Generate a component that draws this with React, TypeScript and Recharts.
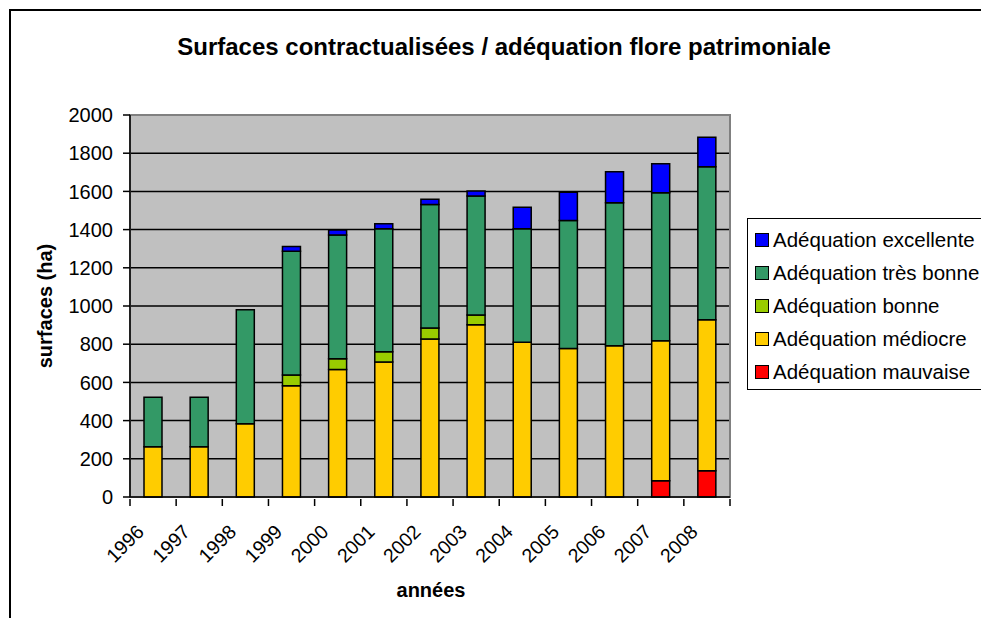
import React from "react";
import { BarChart, Bar, XAxis, YAxis, CartesianGrid, ReferenceArea } from "recharts";

const years = ["1996", "1997", "1998", "1999", "2000", "2001", "2002", "2003", "2004", "2005", "2006", "2007", "2008"];
const mauvaise = [0, 0, 0, 0, 0, 0, 0, 0, 0, 0, 0, 85, 138];
const mediocre = [263, 263, 384, 583, 667, 707, 827, 902, 810, 777, 792, 733, 790];
const bonne = [0, 0, 0, 56, 57, 54, 58, 51, 0, 0, 0, 0, 0];
const tresBonne = [259, 259, 597, 647, 648, 644, 647, 623, 595, 670, 749, 775, 801];
const excellente = [0, 0, 0, 25, 26, 26, 27, 26, 112, 148, 162, 152, 154];
const yTicks = [0, 200, 400, 600, 800, 1000, 1200, 1400, 1600, 1800, 2000];

// bottom to top of the stack
const series = [
  { key: "mauvaise", name: "Adéquation mauvaise", color: "#FF0000" },
  { key: "mediocre", name: "Adéquation médiocre", color: "#FFCC00" },
  { key: "bonne", name: "Adéquation bonne", color: "#99CC00" },
  { key: "tresBonne", name: "Adéquation très bonne", color: "#339966" },
  { key: "excellente", name: "Adéquation excellente", color: "#0000FF" },
];

const data = years.map((year, i) => ({
  year,
  mauvaise: mauvaise[i],
  mediocre: mediocre[i],
  bonne: bonne[i],
  tresBonne: tresBonne[i],
  excellente: excellente[i],
}));

const FONT = "Arial, 'Liberation Sans', sans-serif";

function YearTick(props: any) {
  const { x, y, payload, index } = props;
  const half = payload.offset ?? 23;
  const tx = x - 8;
  const ty = y + 34;
  return (
    <g>
      <line x1={x - half} y1={y} x2={x - half} y2={y + 7} stroke="#000" strokeWidth={1.5} />
      {index === years.length - 1 && (
        <line x1={x + half} y1={y} x2={x + half} y2={y + 7} stroke="#000" strokeWidth={1.5} />
      )}
      <text
        x={tx}
        y={ty}
        textAnchor="end"
        fontSize={19.5}
        fontFamily={FONT}
        fill="#000"
        transform={`rotate(-45, ${tx}, ${ty})`}
      >
        {payload.value}
      </text>
    </g>
  );
}

export default function App() {
  return (
    <div
      style={{
        position: "absolute",
        left: 0,
        top: 0,
        width: 981,
        height: 618,
        overflow: "hidden",
        background: "#fff",
        fontFamily: FONT,
      }}
    >
      <div
        style={{
          position: "absolute",
          left: 9,
          top: 9,
          width: 1100,
          height: 800,
          border: "2px solid #000",
        }}
      />
      <div
        style={{
          position: "absolute",
          left: 504,
          top: 47,
          transform: "translate(-50%, -50%)",
          whiteSpace: "nowrap",
          fontSize: 24,
          fontWeight: "bold",
        }}
      >
        Surfaces contractualisées / adéquation flore patrimoniale
      </div>
      <div
        style={{
          position: "absolute",
          left: 45,
          top: 306,
          transform: "translate(-50%, -50%) rotate(-90deg)",
          whiteSpace: "nowrap",
          fontSize: 20,
          fontWeight: "bold",
        }}
      >
        surfaces (ha)
      </div>
      <div
        style={{
          position: "absolute",
          left: 431,
          top: 590,
          transform: "translate(-50%, -50%)",
          whiteSpace: "nowrap",
          fontSize: 20,
          fontWeight: "bold",
        }}
      >
        années
      </div>

      <div style={{ position: "absolute", left: 0, top: 0 }}>
        <BarChart
          width={981}
          height={618}
          data={data}
          margin={{ top: 115, right: 251, left: 60, bottom: 21 }}
        >
          <CartesianGrid vertical={false} stroke="#000" strokeWidth={1.5} fill="#C0C0C0" fillOpacity={1} />
          <ReferenceArea y1={0} y2={2000} fill="none" stroke="#808080" strokeWidth={2} ifOverflow="visible" />
          <XAxis
            dataKey="year"
            interval={0}
            tickSize={0}
            tickLine={false}
            height={100}
            axisLine={{ stroke: "#000", strokeWidth: 1.5 }}
            tick={<YearTick />}
          />
          <YAxis
            width={70}
            domain={[0, 2000]}
            ticks={yTicks}
            interval={0}
            tickSize={7}
            tickMargin={10}
            axisLine={{ stroke: "#000", strokeWidth: 1.5 }}
            tickLine={{ stroke: "#000", strokeWidth: 1.5 }}
            tick={{ fill: "#000", fontSize: 20, fontFamily: FONT }}
          />
          {series.map((s) => (
            <Bar
              key={s.key}
              dataKey={s.key}
              name={s.name}
              stackId="a"
              fill={s.color}
              stroke="#000"
              strokeWidth={1.5}
              barSize={18}
              isAnimationActive={false}
            />
          ))}
        </BarChart>
      </div>

      <div
        style={{
          position: "absolute",
          left: 747,
          top: 218,
          width: 320,
          height: 172,
          border: "1px solid #000",
          background: "#fff",
          paddingTop: 4,
          boxSizing: "border-box",
        }}
      >
        {[...series].reverse().map((s) => (
          <div
            key={s.key}
            style={{ display: "flex", alignItems: "center", height: 33, paddingLeft: 7, fontSize: 20.5, whiteSpace: "nowrap" }}
          >
            <span
              style={{
                display: "inline-block",
                width: 12,
                height: 12,
                background: s.color,
                border: "1px solid #000",
                marginRight: 4,
              }}
            />
            {s.name}
          </div>
        ))}
      </div>
    </div>
  );
}
